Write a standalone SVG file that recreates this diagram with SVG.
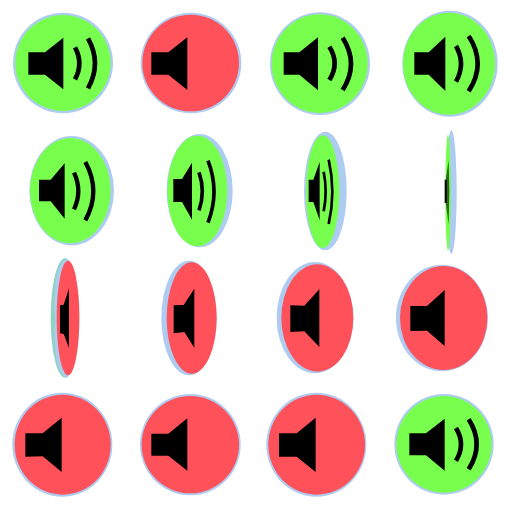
<svg xmlns="http://www.w3.org/2000/svg" width="512" height="512" viewBox="0 0 512 512">
<style>
.rim{fill:#aecbf2}
.g{fill:#78ff4e}
.r{fill:#ff5159}
.s{fill:#000}
.a{fill:none;stroke:#000;stroke-width:14}
</style>
<rect width="512" height="512" fill="#fff"/>
<g id="f1" transform="scale(.33333)"><ellipse class="rim" cx="189" cy="189" rx="150" ry="151"/><ellipse class="g" cx="189" cy="189" rx="143" ry="144"/><polygon class="s" points="85,157 135,157 190,113 190,268 135,224 85,224"/><path class="a" d="M225 142Q251 190 225 238"/><path class="a" d="M264 115Q306 190 264 265"/></g>
<g id="f2" transform="scale(.33333)"><ellipse class="rim" cx="573" cy="189" rx="151" ry="151"/><ellipse class="r" cx="572" cy="189" rx="145" ry="145"/><polygon class="s" points="454,157 505,157 562,112 562,270 505,224 454,224"/></g>
<g id="f3" transform="translate(256,0) scale(.33333)"><ellipse class="rim" cx="192" cy="191" rx="150" ry="154"/><ellipse class="g" cx="191" cy="191" rx="144" ry="148"/><polygon class="s" points="83,157 130,157 186,112 186,271 130,224 83,224"/><path class="a" d="M220 140Q252 190 220 240"/><path class="a" d="M260 113Q310 191 260 270"/></g>
<g id="f4" transform="translate(256,0) scale(.33333)"><ellipse class="rim" cx="582" cy="191" rx="143" ry="159"/><ellipse class="g" cx="579" cy="191" rx="138" ry="153"/><polygon class="s" points="475,157 518,157 568,110 568,273 518,224 475,224"/><path class="a" d="M600 138Q630 191 600 245"/><path class="a" d="M638 108Q692 191 638 274"/></g>
<g id="f5" transform="translate(0,128) scale(.33333)"><ellipse class="rim" cx="215" cy="188" rx="127" ry="164"/><ellipse class="g" cx="211" cy="188" rx="121" ry="158"/><polygon class="s" points="117,155 152,155 194,106 194,272 152,220 117,220"/><path class="a" style="stroke-width:13" d="M222 134Q248 189 222 244"/><path class="a" style="stroke-width:13" d="M256 102Q304 190 256 277"/></g>
<g id="f6" transform="translate(0,128) scale(.33333)"><ellipse class="rim" cx="599" cy="188" rx="99" ry="170"/><ellipse class="g" cx="592" cy="189" rx="90" ry="166"/><polygon class="s" points="520,153 546,153 576,104 576,275 546,222 520,222"/><path class="a" style="stroke-width:11" d="M597 133Q617 190 597 247"/><path class="a" style="stroke-width:11" d="M624 98Q660 191 624 284"/></g>
<g id="f7" transform="translate(256,128) scale(.33333)"><ellipse class="rim" cx="208" cy="189" rx="64" ry="178"/><ellipse class="g" cx="200" cy="191" rx="50" ry="169"/><polygon class="s" points="158,155 172,155 191,102 191,277 172,222 158,222"/><path class="a" style="stroke-width:8" d="M203 131Q215 190 203 250"/><path class="a" style="stroke-width:8" d="M218 95Q240 191 218 288"/></g>
<g id="f8" transform="translate(256,128) scale(.33333)"><ellipse class="rim" cx="586" cy="192" rx="16" ry="185"/><ellipse class="g" cx="576" cy="194" rx="8" ry="174"/><polygon fill="#2a6a1a" points="570,150 578,95 580,190 578,290 570,230"/><polygon class="s" points="566,155 572,155 572,225 566,225"/></g>
<g id="f9" transform="translate(0,256) scale(.33333)"><ellipse fill="#8fd3c2" cx="195" cy="186" rx="43" ry="179"/><path class="rim" d="M200 8C170 20 160 100 165 186C160 280 170 350 200 365C215 365 225 280 225 186C225 90 215 20 200 8Z"/><ellipse class="r" cx="204" cy="186" rx="34" ry="172"/><polygon class="s" points="180,148 191,146 207,97 207,276 191,234 180,232"/></g>
<g id="f10" transform="translate(0,256) scale(.33333)"><ellipse class="rim" cx="567" cy="186" rx="83" ry="172"/><ellipse class="r" cx="575" cy="186" rx="75" ry="167"/><polygon class="s" points="521,148 551,147 583,98 583,275 553,228 521,232"/></g>
<g id="f11" transform="translate(256,256) scale(.33333)"><ellipse class="rim" cx="177" cy="185" rx="115" ry="167"/><ellipse class="r" cx="184" cy="186" rx="108" ry="161"/><polygon class="s" points="103,148 145,149 190,100 190,273 145,226 103,228"/></g>
<g id="f12" transform="translate(256,256) scale(.33333)"><ellipse class="rim" cx="558" cy="186" rx="138" ry="160"/><ellipse class="r" cx="563" cy="186" rx="131" ry="156"/><polygon class="s" points="463,150 513,150 566,102 566,270 513,224 463,225"/></g>
<g id="f13" transform="translate(0,384) scale(.33333)"><ellipse class="rim" cx="187" cy="182" rx="150" ry="156"/><ellipse class="r" cx="188" cy="182" rx="144" ry="150"/><polygon class="s" points="76,148 128,148 185,101 185,264 128,217 76,218"/></g>
<g id="f14" transform="translate(0,384) scale(.33333)"><ellipse class="rim" cx="571" cy="182" rx="151" ry="152"/><ellipse class="r" cx="571" cy="182" rx="146" ry="146"/><polygon class="s" points="454,149 505,149 562,103 562,260 505,215 454,215"/></g>
<g id="f15" transform="translate(256,384) scale(.33333)"><ellipse class="rim" cx="181" cy="182" rx="150" ry="156"/><ellipse class="r" cx="182" cy="182" rx="145" ry="150"/><polygon class="s" points="69,148 122,148 179,101 179,264 122,218 69,218"/></g>
<g id="f16" transform="translate(256,384) scale(.33333)"><ellipse class="rim" cx="564" cy="181" rx="149" ry="151"/><ellipse class="g" cx="564" cy="181" rx="143" ry="145"/><polygon class="s" points="460,148 510,148 566,104 566,260 510,214 460,214"/><path class="a" d="M600 132Q630 181 600 230"/><path class="a" d="M638 106Q686 181 638 256"/></g>
</svg>
